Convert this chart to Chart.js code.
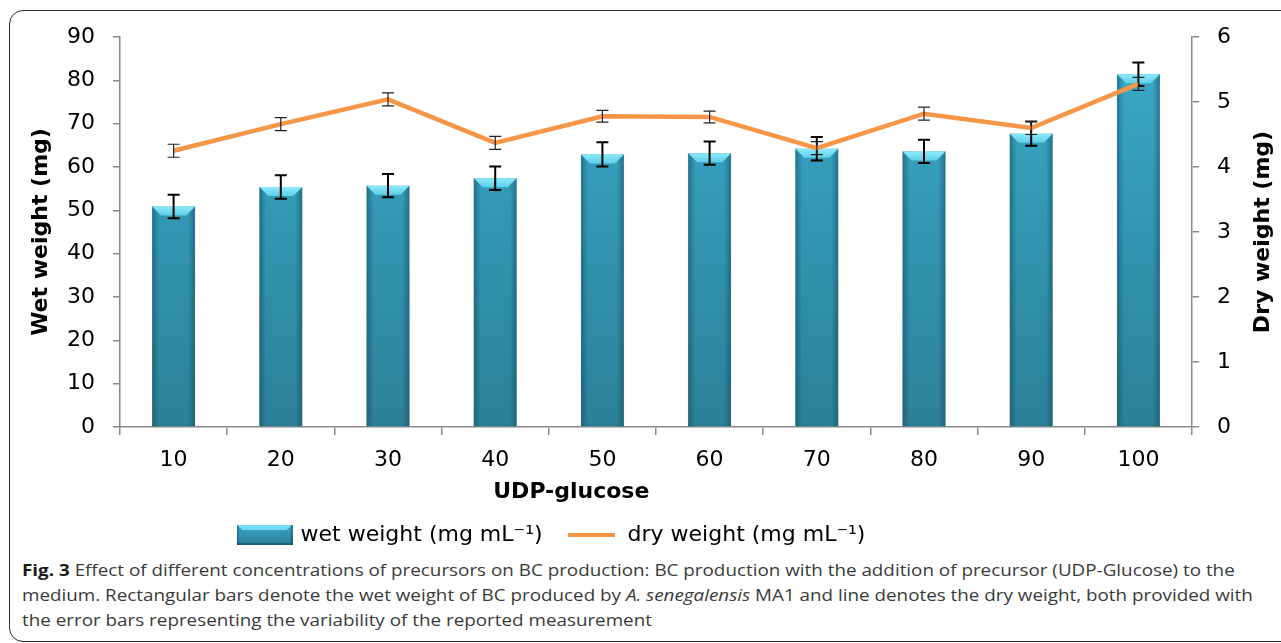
<!DOCTYPE html>
<html>
<head>
<meta charset="utf-8">
<script src="https://cdn.jsdelivr.net/npm/chart.js@4.4.1/dist/chart.umd.min.js"></script>
<style>
  html, body { margin: 0; padding: 0; background: #fff; width: 1281px; height: 643px; overflow: hidden; }
  .frame { position: absolute; left: 9px; top: 10px; width: 1320px; height: 632px; border: 1.5px solid #2b2b2b; border-radius: 14px; box-sizing: border-box; }
  .wrap { position: absolute; left: 0; top: 0; width: 1281px; height: 556px; }
  .caption { position: absolute; left: 22px; top: 557px; font-family: "Open Sans", sans-serif; font-size: 16.5px; line-height: 25px; color: #3a3a3a; white-space: nowrap; transform: scaleX(1.141); transform-origin: 0 0; }
  .caption b { color: #1a1a1a; }
</style>
</head>
<body>
<div class="frame"></div>
<div class="wrap"><canvas id="chartUdp"></canvas></div>
<div class="caption">
  <b>Fig. 3</b> Effect of different concentrations of precursors on BC production: BC production with the addition of precursor (UDP-Glucose) to the<br>
  medium. Rectangular bars denote the wet weight of BC produced by <i>A. senegalensis</i> MA1 and line denotes the dry weight, both provided with<br>
  the error bars representing the variability of the reported measurement
</div>
<script>
// datos
const categorias = ['10', '20', '30', '40', '50', '60', '70', '80', '90', '100'];
const pesoHumedo = [50.9, 55.4, 55.7, 57.4, 62.9, 63.2, 64.2, 63.6, 67.7, 81.4];
const errorHumedo = [2.7, 2.7, 2.7, 2.7, 2.8, 2.7, 2.7, 2.7, 2.8, 2.7];
const pesoSeco = [4.25, 4.66, 5.04, 4.37, 4.78, 4.77, 4.29, 4.82, 4.60, 5.28];
const errorSeco = [0.10, 0.10, 0.10, 0.10, 0.09, 0.09, 0.10, 0.10, 0.10, 0.10];
const ticksHumedo = [0, 90, 10];   // min, max, paso
const ticksSeco = [0, 6, 1];

const FUENTE = '"DejaVu Sans", sans-serif';

// muestras de la leyenda (barra con bisel y línea naranja)
function muestraBarra() {
  const c = document.createElement('canvas');
  c.width = 56; c.height = 20;
  const x = c.getContext('2d');
  const g = x.createLinearGradient(0, 0, 0, 20);
  g.addColorStop(0, '#3aa9c7'); g.addColorStop(1, '#2a7d94');
  x.fillStyle = g; x.fillRect(0, 0, 56, 20);
  x.fillStyle = '#74dcf2';
  x.beginPath(); x.moveTo(0, 0); x.lineTo(56, 0); x.lineTo(50, 5); x.lineTo(6, 5); x.closePath(); x.fill();
  x.fillStyle = 'rgba(10,50,70,.35)';
  x.fillRect(0, 0, 2, 20); x.fillRect(54, 0, 2, 20); x.fillRect(0, 18, 56, 2);
  return c;
}
function muestraLinea() {
  const c = document.createElement('canvas');
  c.width = 47; c.height = 4;
  const x = c.getContext('2d');
  x.fillStyle = '#f79646'; x.fillRect(0, 0, 47, 4);
  return c;
}
const imgBarra = muestraBarra();
const imgLinea = muestraLinea();

function dibujarErrores(chart, meta, valores, errores, ejeId, color, ancho) {
  const ctx = chart.ctx;
  const eje = chart.scales[ejeId];
  ctx.save();
  ctx.strokeStyle = color;
  ctx.lineWidth = ancho;
  meta.data.forEach((el, i) => {
    const x = el.x;
    const y1 = eje.getPixelForValue(valores[i] + errores[i]);
    const y2 = eje.getPixelForValue(valores[i] - errores[i]);
    ctx.beginPath();
    ctx.moveTo(x, y1); ctx.lineTo(x, y2);
    ctx.moveTo(x - 6, y1); ctx.lineTo(x + 6, y1);
    ctx.moveTo(x - 6, y2); ctx.lineTo(x + 6, y2);
    ctx.stroke();
  });
  ctx.restore();
}

const pluginExtras = {
  id: 'extras',
  afterLayout(chart) {
    // correr la leyenda hacia la izquierda como en el original
    const lg = chart.legend;
    if (lg) lg.right = lg.right - 176;
  },
  afterDatasetDraw(chart, args) {
    const ctx = chart.ctx;
    if (args.index === 0) {
      args.meta.data.forEach(bar => {
        const { x, y, width, base } = bar.getProps(['x', 'y', 'width', 'base'], true);
        const l = x - width / 2, r = x + width / 2;
        ctx.save();
        // bordes laterales oscuros
        let gl = ctx.createLinearGradient(l, 0, l + 7, 0);
        gl.addColorStop(0, 'rgba(15,60,80,.45)'); gl.addColorStop(1, 'rgba(15,60,80,0)');
        ctx.fillStyle = gl; ctx.fillRect(l, y, 7, base - y);
        let gr = ctx.createLinearGradient(r - 7, 0, r, 0);
        gr.addColorStop(0, 'rgba(15,60,80,0)'); gr.addColorStop(1, 'rgba(15,60,80,.45)');
        ctx.fillStyle = gr; ctx.fillRect(r - 7, y, 7, base - y);
        // bisel superior
        const gb = ctx.createLinearGradient(0, y, 0, y + 9);
        gb.addColorStop(0, '#8eeafb'); gb.addColorStop(1, '#5fcfe8');
        ctx.fillStyle = gb;
        ctx.beginPath();
        ctx.moveTo(l, y); ctx.lineTo(r, y); ctx.lineTo(r - 9, y + 9); ctx.lineTo(l + 9, y + 9); ctx.closePath();
        ctx.fill();
        ctx.restore();
      });
      dibujarErrores(chart, args.meta, pesoHumedo, errorHumedo, 'y', '#000', 2);
    } else if (args.index === 1) {
      dibujarErrores(chart, args.meta, pesoSeco, errorSeco, 'y1', '#222', 1.2);
    }
  },
  afterDraw(chart) {
    const ctx = chart.ctx;
    const ca = chart.chartArea;
    ctx.save();
    ctx.fillStyle = '#000';
    ctx.font = 'bold 22px ' + FUENTE;
    ctx.textAlign = 'center';
    ctx.textBaseline = 'middle';
    // título eje x
    ctx.fillText('UDP-glucose', ca.left + (ca.right - ca.left) * 0.421, 492);
    // título eje derecho, de abajo hacia arriba
    ctx.translate(1263, (ca.top + ca.bottom) / 2);
    ctx.rotate(-Math.PI / 2);
    ctx.fillText('Dry weight (mg)', 0, 0);
    ctx.restore();
  }
};

const ctxUdp = document.getElementById('chartUdp');
new Chart(ctxUdp.getContext('2d'), {
  data: {
    labels: categorias,
    datasets: [
      {
        type: 'bar', label: 'wet weight (mg mL⁻¹)', data: pesoHumedo, yAxisID: 'y', order: 2,
        backgroundColor: c => {
          const ca = c.chart.chartArea;
          if (!ca) return '#35a3c1';
          const g = c.chart.ctx.createLinearGradient(0, ca.top, 0, ca.bottom);
          g.addColorStop(0, '#3aabc9'); g.addColorStop(1, '#2b8098');
          return g;
        },
        borderWidth: 0, barPercentage: 0.8, categoryPercentage: 0.5
      },
      {
        type: 'line', label: 'dry weight (mg mL⁻¹)', data: pesoSeco, yAxisID: 'y1', order: 1,
        borderColor: '#f79646', backgroundColor: '#f79646', borderWidth: 4.5,
        pointRadius: 0, pointHoverRadius: 0, tension: 0, fill: false
      }
    ]
  },
  options: {
    responsive: true, maintainAspectRatio: false, animation: false,
    layout: { padding: { top: 37, left: 0, right: 0, bottom: 0 } },
    plugins: {
      tooltip: { enabled: false },
      legend: {
        position: 'bottom',
        labels: {
          usePointStyle: true, pointStyleWidth: 50, boxHeight: 20, padding: 24,
          color: '#000', font: { family: FUENTE, size: 22 },
          generateLabels: () => [
            { text: 'wet weight (mg mL⁻¹)', pointStyle: imgBarra, fillStyle: '#35a3c1', strokeStyle: 'transparent', lineWidth: 0, hidden: false, datasetIndex: 0, fontColor: '#000' },
            { text: 'dry weight (mg mL⁻¹)', pointStyle: imgLinea, fillStyle: '#f79646', strokeStyle: 'transparent', lineWidth: 0, hidden: false, datasetIndex: 1, fontColor: '#000' }
          ]
        }
      }
    },
    scales: {
      x: {
        afterFit: s => { s.height = 73; },
        grid: { drawOnChartArea: false, drawTicks: true, tickLength: 8, color: '#8a8a8a', lineWidth: 1.5 },
        border: { color: '#8a8a8a', width: 1.5 },
        ticks: { color: '#000', font: { family: FUENTE, size: 22 }, padding: 12 }
      },
      y: {
        position: 'left', min: ticksHumedo[0], max: ticksHumedo[1],
        afterFit: s => { s.width = 120; },
        grid: { drawOnChartArea: false, drawTicks: true, tickLength: 7, color: '#8a8a8a', lineWidth: 1.5 },
        border: { color: '#8a8a8a', width: 1.5 },
        ticks: { stepSize: ticksHumedo[2], color: '#000', font: { family: FUENTE, size: 22 }, padding: 18 },
        title: { display: true, text: 'Wet weight (mg)', color: '#000', font: { family: FUENTE, size: 22, weight: 'bold' }, padding: { top: 28, bottom: 0 } }
      },
      y1: {
        position: 'right', min: ticksSeco[0], max: ticksSeco[1],
        afterFit: s => { s.width = 89; },
        grid: { drawOnChartArea: false, drawTicks: true, tickLength: 7, color: '#8a8a8a', lineWidth: 1.5 },
        border: { color: '#8a8a8a', width: 1.5 },
        ticks: { stepSize: ticksSeco[2], color: '#000', font: { family: FUENTE, size: 22 }, padding: 18 }
      }
    }
  },
  plugins: [pluginExtras]
});
</script>
</body>
</html>
